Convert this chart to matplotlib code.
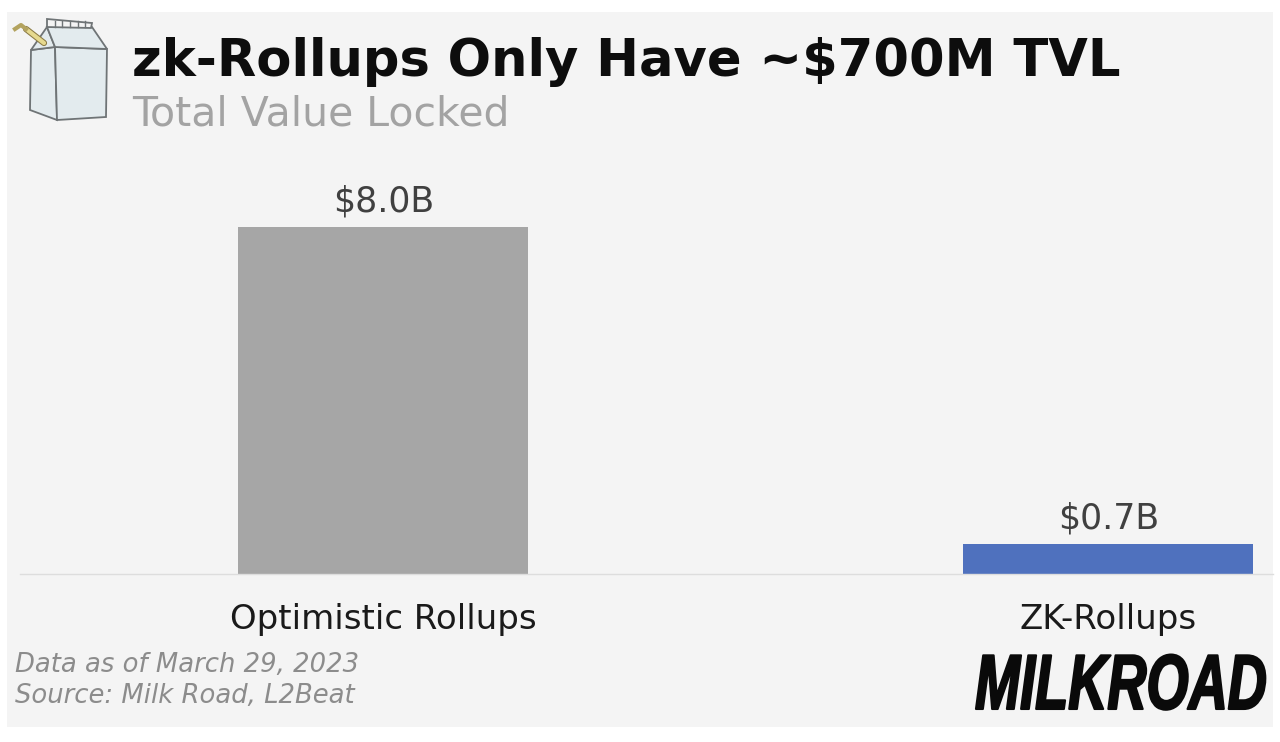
import matplotlib
matplotlib.use("Agg")
from matplotlib import pyplot as plt
from matplotlib.patches import Polygon, Rectangle
from matplotlib.patheffects import AbstractPathEffect
from matplotlib.transforms import Affine2D

W, H = 1280, 742

categories = ["Optimistic Rollups", "ZK-Rollups"]
tvl = [8.0, 0.7]
bar_labels = ["$8.0B", "$0.7B"]
bar_colors = ["#a6a6a6", "#4f71be"]


def px(x, y):
    # picture pixels to figure fraction, y measured from the top
    return x / W, 1 - y / H


class TallHeavy(AbstractPathEffect):
    # logo lettering is condensed and heavy, no installed font has that
    def __init__(self, sy, lw):
        super().__init__()
        self.sy = sy
        self.lw = lw

    def draw_path(self, renderer, gc, tpath, affine, rgbFace=None):
        gc0 = renderer.new_gc()
        gc0.copy_properties(gc)
        gc0.set_linewidth(self.lw)
        gc0.set_foreground(rgbFace)
        renderer.draw_path(gc0, tpath, Affine2D().scale(1, self.sy) + affine, rgbFace)
        gc0.restore()


fig = plt.figure(figsize=(W / 100, H / 100), dpi=100, facecolor="white")
fig.patches.append(Rectangle((7 / W, 1 - 727 / H), 1266 / W, 715 / H, transform=fig.transFigure,
                             facecolor="#f4f4f4", edgecolor="none", zorder=-1))

# axes run along the baseline, from the left end of the line to the panel edge
ax = fig.add_axes([20 / W, 1 - 574 / H, 1253 / W, 400 / H])
ax.patch.set_alpha(0)
ax.bar(categories, tvl, width=0.4, color=bar_colors)
ax.set_xlim(-0.501, 1.227)
ax.set_ylim(0, 400 / 347 * 8.0)
ax.set_yticks([])
for side in ["top", "left", "right"]:
    ax.spines[side].set_visible(False)
ax.spines["bottom"].set_color("#dddddd")
ax.spines["bottom"].set_linewidth(1)
ax.tick_params(axis="x", length=0, pad=21, labelsize=24.5, labelcolor="#1a1a1a")

for i in range(len(tvl)):
    ax.annotate(bar_labels[i], (i, tvl[i]), xytext=(0, 6), textcoords="offset points",
                ha="center", va="bottom", fontsize=25, color="#404040")

# heading
fig.text(*px(132, 76), "zk-Rollups Only Have ~$700M TVL", fontsize=36.8, fontweight="bold",
         color="#0d0d0d", va="baseline")
fig.text(*px(132, 126), "Total Value Locked", fontsize=29.5, color="#a3a3a3", va="baseline")

# footer
fig.text(*px(15, 672), "Data as of March 29, 2023", fontsize=18.6, style="italic", color="#8c8c8c", va="baseline")
fig.text(*px(15, 703), "Source: Milk Road, L2Beat", fontsize=18.6, style="italic", color="#8c8c8c", va="baseline")
logo = fig.text(*px(975, 709), "MILKROAD", fontsize=39, fontweight="bold", style="italic",
                family=["Liberation Sans"], color="#0a0a0a", va="baseline")
logo.set_path_effects([TallHeavy(1.44, 1.5)])

# milk carton
carton = [
    ([(31, 50), (55, 47), (57, 120), (30, 110)], "#e3ebee"),
    ([(55, 47), (107, 49), (106, 117), (57, 120)], "#e3ebee"),
    ([(31, 50), (47, 27), (55, 47)], "#e3ebee"),
    ([(47, 27), (92, 27), (107, 49), (55, 47)], "#e3ebee"),
    ([(47, 19), (92, 23), (91, 28), (47, 27)], "#f4f4f4"),
]
for pts, col in carton:
    fig.patches.append(Polygon([px(x, y) for x, y in pts], closed=True, transform=fig.transFigure,
                               facecolor=col, edgecolor="#6f7476", linewidth=1.3))
for x in [55, 62, 70, 78, 85]:
    fig.add_artist(plt.Line2D([x / W, x / W], [1 - 21 / H, 1 - 27 / H], color="#6f7476", linewidth=1))
fig.add_artist(plt.Line2D([26 / W, 44 / W], [1 - 29 / H, 1 - 43 / H], color="#8a7a45", linewidth=4.5, solid_capstyle="round"))
fig.add_artist(plt.Line2D([26 / W, 44 / W], [1 - 29 / H, 1 - 43 / H], color="#e6d98f", linewidth=3, solid_capstyle="round"))
fig.add_artist(plt.Line2D([15 / W, 21 / W, 26 / W], [1 - 29 / H, 1 - 25 / H, 1 - 29 / H], color="#b3a35f", linewidth=3))

fig.savefig("out.png", dpi=100)
